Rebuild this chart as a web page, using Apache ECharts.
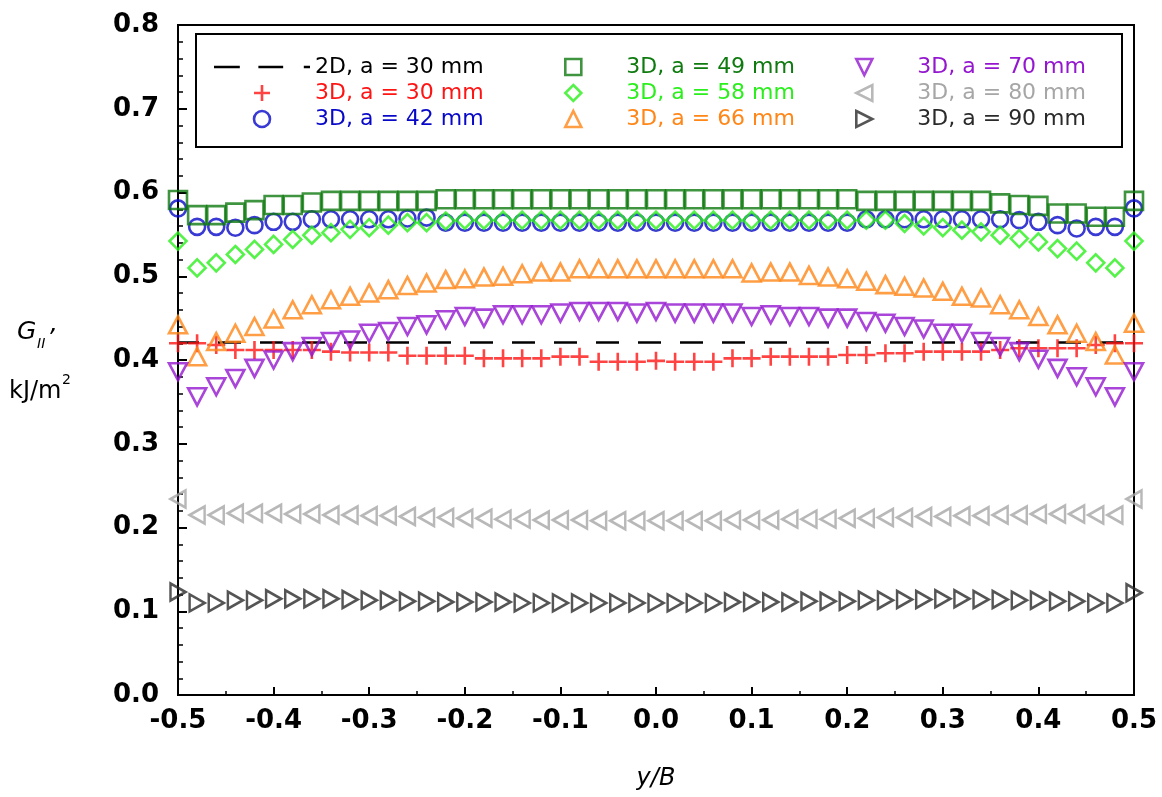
<!DOCTYPE html>
<html>
<head>
<meta charset="utf-8">
<script src="https://cdn.jsdelivr.net/npm/echarts@6.0.0/dist/echarts.min.js"></script>
<style>
  html, body { margin: 0; padding: 0; background: #fff; }
  #chart { width: 1162px; height: 797px; }
</style>
</head>
<body>
<div id="chart"></div>
<script>
// y/B positions along the crack front
var yB = [-0.5,-0.48,-0.46,-0.44,-0.42,-0.4,-0.38,-0.36,-0.34,-0.32,-0.3,-0.28,-0.26,-0.24,-0.22,-0.2,-0.18,-0.16,-0.14,-0.12,-0.1,-0.08,-0.06,-0.04,-0.02,
          0,0.02,0.04,0.06,0.08,0.1,0.12,0.14,0.16,0.18,0.2,0.22,0.24,0.26,0.28,0.3,0.32,0.34,0.36,0.38,0.4,0.42,0.44,0.46,0.48,0.5];

// G_II, kJ/m2
var g2D30 = [0.421, 0.421];   // at y/B = -0.5 and 0.5
var g3D30 = [0.420,0.420,0.418,0.412,0.412,0.412,0.412,0.412,0.410,0.409,0.409,0.409,0.405,0.405,0.405,0.405,0.402,0.402,0.402,0.402,
             0.404,0.404,0.398,0.398,0.398,0.399,0.398,0.398,0.398,0.402,0.402,0.404,0.404,0.404,0.404,0.406,0.406,0.408,0.408,0.410,
             0.410,0.410,0.410,0.412,0.414,0.414,0.414,0.414,0.418,0.420,0.420];
var g3D42 = [0.581,0.559,0.559,0.558,0.561,0.565,0.565,0.568,0.568,0.568,0.568,0.568,0.569,0.570,
             0.564,0.564,0.564,0.564,0.564,0.564,0.564,0.564,0.564,0.564,0.564,0.564,0.564,0.564,0.564,0.564,0.564,0.564,0.564,0.564,0.564,0.564,
             0.568,0.568,0.568,0.568,0.568,0.568,0.568,0.568,0.567,0.565,0.561,0.557,0.559,0.559,0.581];
var g3D49 = [0.591,0.573,0.573,0.576,0.579,0.585,0.585,0.588,0.590,0.590,0.590,0.590,0.590,0.590,
             0.592,0.592,0.592,0.592,0.592,0.592,0.592,0.592,0.592,0.592,0.592,0.592,0.592,0.592,0.592,0.592,0.592,0.592,0.592,0.592,0.592,0.592,
             0.590,0.590,0.590,0.590,0.590,0.590,0.590,0.587,0.585,0.584,0.575,0.575,0.571,0.571,0.590];
var g3D58 = [0.542,0.510,0.516,0.526,0.532,0.538,0.544,0.549,0.552,0.556,0.558,0.561,0.564,0.564,0.566,
             0.567,0.567,0.567,0.567,0.567,0.567,0.567,0.567,0.567,0.567,0.567,0.567,0.567,0.567,0.567,0.567,0.567,0.567,0.567,0.567,0.567,0.567,
             0.567,0.563,0.560,0.558,0.555,0.553,0.549,0.545,0.541,0.533,0.530,0.516,0.510,0.542];
var g3D66 = [0.442,0.404,0.422,0.432,0.440,0.449,0.460,0.466,0.472,0.476,0.480,0.484,0.489,0.492,0.496,0.497,0.499,0.500,0.503,0.505,0.505,
             0.509,0.509,0.509,0.509,0.509,0.509,0.509,0.509,0.509,
             0.504,0.505,0.505,0.501,0.499,0.497,0.494,0.490,0.488,0.486,0.482,0.476,0.474,0.466,0.460,0.452,0.442,0.432,0.422,0.406,0.444];
var g3D70 = [0.386,0.356,0.368,0.378,0.390,0.400,0.410,0.416,0.422,0.424,0.432,0.434,0.440,0.442,0.448,0.452,0.450,0.454,0.454,0.454,
             0.456,0.458,0.458,0.458,0.456,0.458,0.456,0.456,0.456,0.456,0.452,0.454,0.452,0.452,0.450,0.450,0.446,0.444,0.440,0.437,
             0.432,0.432,0.422,0.416,0.410,0.401,0.390,0.380,0.368,0.356,0.386];
var g3D80 = [0.234,0.215,0.215,0.217,0.217,0.217,0.216,0.216,0.215,0.215,0.214,0.214,0.213,0.212,0.212,0.211,0.211,0.210,0.210,0.209,
             0.209,0.209,0.208,0.208,0.208,0.208,0.208,0.208,0.208,0.209,0.209,0.209,0.210,0.210,0.210,0.211,0.211,0.212,0.212,0.213,
             0.213,0.214,0.214,0.215,0.215,0.216,0.216,0.216,0.215,0.215,0.234];
var g3D90 = [0.123,0.110,0.110,0.113,0.113,0.115,0.115,0.115,0.115,0.114,0.113,0.113,0.112,0.112,0.111,0.111,0.111,0.111,0.110,0.110,
             0.110,0.110,0.110,0.110,0.110,0.110,0.110,0.110,0.110,0.111,0.111,0.111,0.111,0.112,0.112,0.112,0.113,0.113,0.114,0.114,
             0.115,0.115,0.114,0.114,0.113,0.113,0.112,0.112,0.110,0.110,0.122];

var font = 'DejaVu Sans';

var pts = function (vals) {
    return yB.map(function (x, i) { return [x, vals[i]]; });
};

// name, values, colour, symbol, size
var sets = [
    ['3D, a = 30 mm', g3D30, '#ff1414', 'path://M0,5H10M5,0V10', 18],
    ['3D, a = 42 mm', g3D42, '#0808c8', 'circle', 16],
    ['3D, a = 49 mm', g3D49, '#0f7a0f', 'path://M0,0H10V10H0Z', 18],
    ['3D, a = 58 mm', g3D58, '#2bef1c', 'path://M5,0L10,5L5,10L0,5Z', 17],
    ['3D, a = 66 mm', g3D66, '#ff8617', 'path://M5,0L10,10H0Z', [18, 17]],
    ['3D, a = 70 mm', g3D70, '#9417cf', 'path://M0,0H10L5,10Z', [18, 17]],
    ['3D, a = 80 mm', g3D80, '#a6a6a6', 'path://M10,0V10L0,5Z', [15, 17]],
    ['3D, a = 90 mm', g3D90, '#2a2a2a', 'path://M0,0L10,5L0,10Z', [15, 17]]
];

var series = [{
    name: '2D, a = 30 mm',
    type: 'line',
    data: [[yB[0], g2D30[0]], [yB[yB.length - 1], g2D30[1]]],
    symbol: 'none',
    silent: true,
    z: 1,
    lineStyle: { color: '#000', width: 2.5, type: [23, 19], dashOffset: 2 }
}];
var legendItems = {};
legendItems['2D, a = 30 mm'] = {
    name: '2D, a = 30 mm',
    icon: 'path://M0,0H25V2.5H0Z M43,0H67V2.5H43Z M87,0H93V2.5H87Z',
    itemStyle: { color: '#000', borderWidth: 0 },
    textStyle: { color: '#000' }
};
sets.forEach(function (s) {
    series.push({
        name: s[0],
        type: 'scatter',
        data: pts(s[1]),
        symbol: s[3],
        symbolSize: s[4],
        clip: false,
        silent: true,
        itemStyle: { color: 'transparent', borderColor: s[2], borderWidth: 2.6 }
    });
    legendItems[s[0]] = {
        name: s[0],
        icon: s[3],
        itemStyle: { color: 'transparent', borderColor: s[2], borderWidth: 2.6 },
        textStyle: { color: s[2] }
    };
});

// the legend box is placed by its content, so columns without the
// wide dashed icon start at the symbol (40px into the item)
var legendCol = function (left, names) {
    return {
        orient: 'vertical',
        left: left,
        top: 56,
        padding: 0,
        itemWidth: 96,
        itemHeight: 16,
        itemGap: 4,
        selectedMode: false,
        textStyle: { fontFamily: font, fontSize: 22, lineHeight: 16 },
        data: names.map(function (n) { return legendItems[n]; })
    };
};

var option = {
    animation: false,
    backgroundColor: '#fff',
    grid: { left: 178, right: 28, top: 25, bottom: 102, show: true, borderColor: '#000', borderWidth: 2, outerBoundsMode: 'none' },
    legend: [
        legendCol(214, ['2D, a = 30 mm', '3D, a = 30 mm', '3D, a = 42 mm']),
        legendCol(564, ['3D, a = 49 mm', '3D, a = 58 mm', '3D, a = 66 mm']),
        legendCol(855, ['3D, a = 70 mm', '3D, a = 80 mm', '3D, a = 90 mm'])
    ],
    xAxis: {
        type: 'value',
        min: -0.5, max: 0.5, interval: 0.1,
        name: 'y/B',
        nameLocation: 'middle',
        nameGap: 72,
        nameTextStyle: { fontFamily: font, fontSize: 24, fontStyle: 'italic', color: '#000' },
        axisLine: { show: true, onZero: false, lineStyle: { color: '#000', width: 2 } },
        axisTick: { inside: true, length: 8, lineStyle: { color: '#000', width: 2 } },
        minorTick: { show: true, splitNumber: 2, length: 4, lineStyle: { color: '#000', width: 1.5 } },
        splitLine: { show: false },
        axisLabel: {
            margin: 13, color: '#000', fontFamily: font, fontSize: 26, fontWeight: 'bold',
            formatter: function (v) { return v.toFixed(1); }
        }
    },
    yAxis: {
        type: 'value',
        min: 0, max: 0.8, interval: 0.1,
        axisLine: { show: true, onZero: false, lineStyle: { color: '#000', width: 2 } },
        axisTick: { inside: true, length: 9, lineStyle: { color: '#000', width: 2 } },
        minorTick: { show: true, splitNumber: 5, length: 5, lineStyle: { color: '#000', width: 1.5 } },
        splitLine: { show: false },
        axisLabel: {
            margin: 19, color: '#000', fontFamily: font, fontSize: 26, fontWeight: 'bold',
            formatter: function (v) { return v.toFixed(1); }
        }
    },
    graphic: [
        { type: 'rect', shape: { x: 196, y: 34, width: 926, height: 113 }, style: { fill: 'none', stroke: '#000', lineWidth: 2 }, silent: true },
        { type: 'text', x: 17, y: 320, style: { text: 'G', font: 'italic 25px "DejaVu Sans"', fill: '#000', verticalAlign: 'top' } },
        { type: 'text', x: 37, y: 337, style: { text: 'II', font: 'italic 14px "DejaVu Sans"', fill: '#000', verticalAlign: 'top' } },
        { type: 'text', x: 50, y: 312, style: { text: ',', font: 'italic 25px "DejaVu Sans"', fill: '#000', verticalAlign: 'top' } },
        { type: 'text', x: 9, y: 380, style: { text: 'kJ/m', font: '24px "DejaVu Sans"', fill: '#000', verticalAlign: 'top' } },
        { type: 'text', x: 62, y: 373, style: { text: '2', font: '14px "DejaVu Sans"', fill: '#000', verticalAlign: 'top' } }
    ],
    series: series
};

var myChart = echarts.init(document.getElementById('chart'));
myChart.setOption(option);
</script>
</body>
</html>
